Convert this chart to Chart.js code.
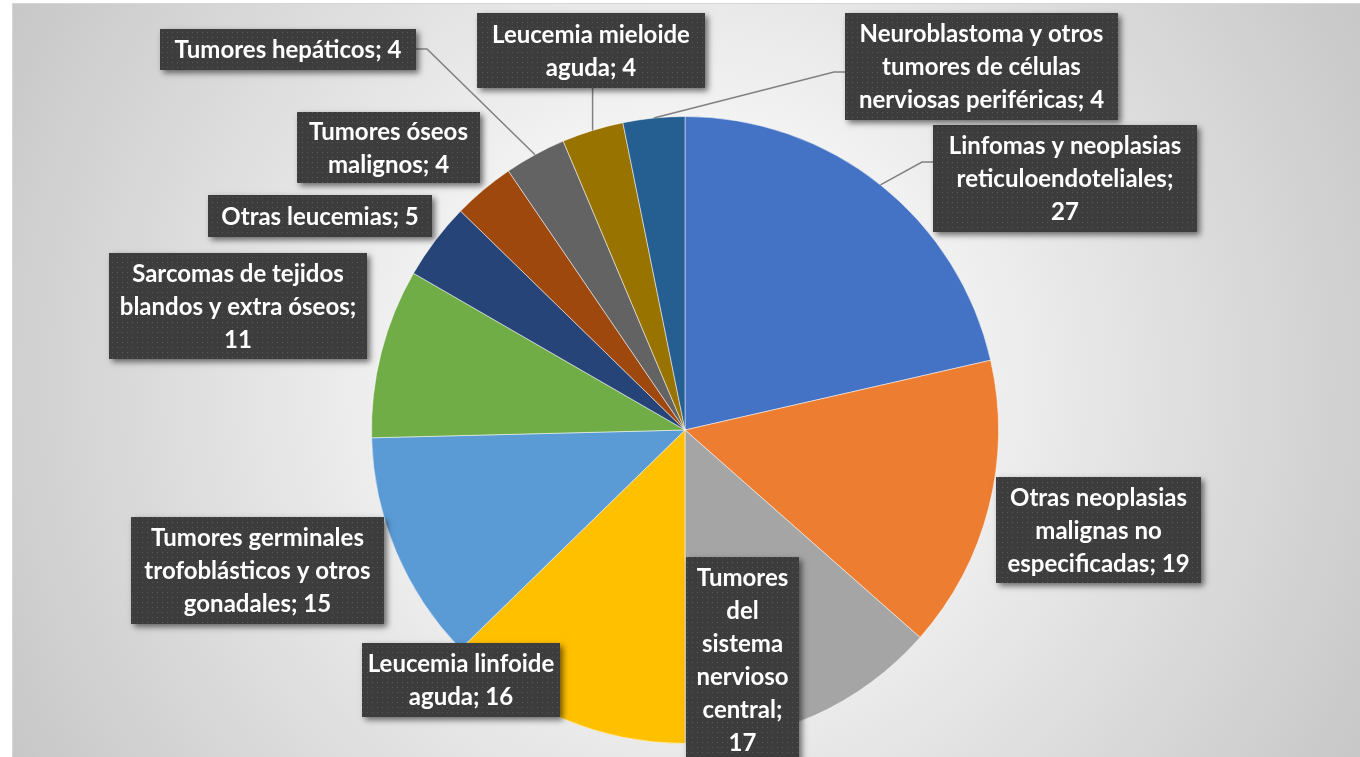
<!DOCTYPE html>
<html>
<head>
<meta charset="utf-8">
<script src="https://cdn.jsdelivr.net/npm/chart.js@4.4.1/dist/chart.umd.min.js"></script>
<style>
  html, body { margin: 0; padding: 0; background: #fff; }
  canvas { display: block; }
</style>
</head>
<body>
<canvas id="pieChart" width="1360" height="757"></canvas>
<script>
// Chart data
const categories = [
    'Linfomas y neoplasias reticuloendoteliales',
    'Otras neoplasias malignas no especificadas',
    'Tumores del sistema nervioso central',
    'Leucemia linfoide aguda',
    'Tumores germinales trofoblásticos y otros gonadales',
    'Sarcomas de tejidos blandos y extra óseos',
    'Otras leucemias',
    'Tumores óseos malignos',
    'Tumores hepáticos',
    'Leucemia mieloide aguda',
    'Neuroblastoma y otros tumores de células nerviosas periféricas'
];
const values = [27, 19, 17, 16, 15, 11, 5, 4, 4, 4, 4];

const sliceColors = ['#4472C4', '#ED7D31', '#A5A5A5', '#FFC000', '#5B9BD5', '#70AD47',
                     '#264478', '#9E480E', '#636363', '#997300', '#255E91'];

// Where each label box sits (layout only), wrap width, optional leader line
const labelBoxes = [
    { x: 933, y: 125, w: 264, h: 107, wrap: 240, leader: { side: 'left', y: 162 } },
    { x: 996, y: 477, w: 205, h: 106 },
    { x: 686, y: 557, w: 113, h: 206, wrap: 105 },
    { x: 362, y: 643, w: 198, h: 74 },
    { x: 131, y: 517, w: 253, h: 107 },
    { x: 109, y: 253, w: 258, h: 106, wrap: 246 },
    { x: 208, y: 195, w: 224, h: 42 },
    { x: 297, y: 112, w: 183, h: 71 },
    { x: 160, y: 29, w: 256, h: 41, leader: { side: 'right', y: 49 } },
    { x: 477, y: 13, w: 228, h: 75, leader: { side: 'bottom' } },
    { x: 845, y: 13, w: 273, h: 107, leader: { side: 'left', y: 72 } }
];

const LABEL_FONT = 'bold 24px Lato, "Open Sans", sans-serif';
const LINE_H = 33;

// small dotted texture used inside the label boxes
function makeDotPattern(ctx) {
    const c = document.createElement('canvas');
    c.width = 5;
    c.height = 5;
    const p = c.getContext('2d');
    p.fillStyle = '#3d3d3d';
    p.fillRect(0, 0, 5, 5);
    p.fillStyle = '#595959';
    p.fillRect(2, 2, 1, 1);
    return ctx.createPattern(c, 'repeat');
}

function wrapText(ctx, text, maxWidth) {
    const words = text.split(' ');
    const lines = [];
    let line = '';
    words.forEach(word => {
        const test = line ? line + ' ' + word : word;
        if (line && ctx.measureText(test).width > maxWidth) {
            lines.push(line);
            line = word;
        } else {
            line = test;
        }
    });
    if (line) lines.push(line);
    return lines;
}

const backgroundPlugin = {
    id: 'background',
    beforeDraw(chart) {
        const ctx = chart.ctx;
        const W = chart.width, H = chart.height;
        ctx.save();
        ctx.fillStyle = '#ffffff';
        ctx.fillRect(0, 0, W, H);
        const grad = ctx.createRadialGradient(686, 380, 0, 686, 380, 820);
        grad.addColorStop(0, '#ffffff');
        grad.addColorStop(0.2, '#fbfbfb');
        grad.addColorStop(1, '#c3c3c3');
        ctx.fillStyle = grad;
        ctx.fillRect(12, 3, W - 12, H - 3);
        ctx.strokeStyle = '#d6d6d6';
        ctx.lineWidth = 1;
        ctx.strokeRect(12.5, 3.5, W - 12, H);
        ctx.restore();
    }
};

const boxLabelPlugin = {
    id: 'boxLabels',
    afterDatasetsDraw(chart) {
        const ctx = chart.ctx;
        const meta = chart.getDatasetMeta(0);
        const pattern = makeDotPattern(ctx);

        meta.data.forEach((arc, i) => {
            const box = labelBoxes[i];
            const mid = (arc.startAngle + arc.endAngle) / 2;
            const ax = arc.x + Math.cos(mid) * arc.outerRadius;
            const ay = arc.y + Math.sin(mid) * arc.outerRadius;

            // leader line from slice edge to box
            if (box.leader) {
                ctx.save();
                ctx.strokeStyle = '#808080';
                ctx.lineWidth = 1.5;
                ctx.beginPath();
                ctx.moveTo(ax, ay);
                if (box.leader.side === 'left') {
                    ctx.lineTo(box.x - 11, box.leader.y);
                    ctx.lineTo(box.x, box.leader.y);
                } else if (box.leader.side === 'right') {
                    ctx.lineTo(box.x + box.w + 11, box.leader.y);
                    ctx.lineTo(box.x + box.w, box.leader.y);
                } else {
                    ctx.lineTo(ax, box.y + box.h);
                }
                ctx.stroke();
                ctx.restore();
            }

            // box with drop shadow
            ctx.save();
            ctx.shadowColor = 'rgba(0, 0, 0, 0.55)';
            ctx.shadowBlur = 6;
            ctx.shadowOffsetX = 3;
            ctx.shadowOffsetY = 3;
            ctx.fillStyle = '#3d3d3d';
            ctx.fillRect(box.x, box.y, box.w, box.h);
            ctx.restore();
            ctx.save();
            ctx.fillStyle = pattern;
            ctx.fillRect(box.x, box.y, box.w, box.h);
            ctx.restore();

            // text
            ctx.save();
            ctx.font = LABEL_FONT;
            ctx.fillStyle = '#ffffff';
            ctx.textAlign = 'center';
            ctx.textBaseline = 'middle';
            const text = categories[i] + '; ' + values[i];
            const lines = wrapText(ctx, text, box.wrap || box.w - 6);
            const top = box.y + box.h / 2 - (lines.length * LINE_H) / 2;
            lines.forEach((ln, k) => {
                ctx.fillText(ln, box.x + box.w / 2, top + LINE_H * k + LINE_H / 2 + 1);
            });
            ctx.restore();
        });
    }
};

const ctx = document.getElementById('pieChart').getContext('2d');

new Chart(ctx, {
    type: 'pie',
    data: {
        labels: categories,
        datasets: [{
            data: values,
            backgroundColor: sliceColors,
            borderColor: 'rgba(255, 255, 255, 0.5)',
            borderWidth: 1,
            hoverOffset: 0
        }]
    },
    options: {
        responsive: false,
        animation: false,
        events: [],
        layout: {
            padding: { top: 116, bottom: 13, left: 300, right: 290 }
        },
        plugins: {
            legend: { display: false },
            tooltip: { enabled: false }
        }
    },
    plugins: [backgroundPlugin, boxLabelPlugin]
});
</script>
</body>
</html>
